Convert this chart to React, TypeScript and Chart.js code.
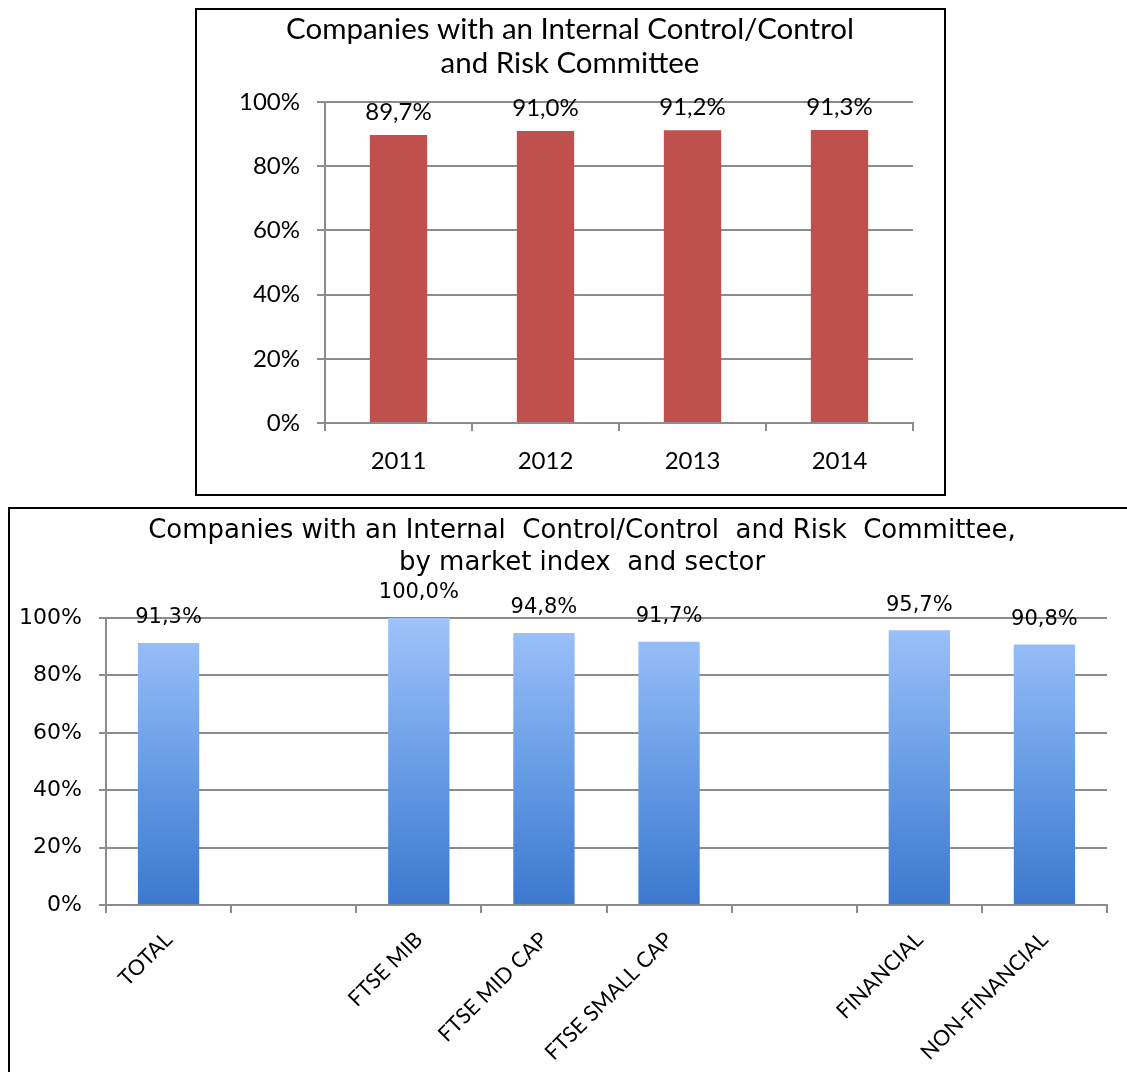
import React, { useEffect, useRef } from "react";
import { Chart, registerables } from "chart.js";

Chart.register(...registerables);

const yearLabels = ["2011", "2012", "2013", "2014"];
const yearValues = [89.7, 91.0, 91.2, 91.3];

const indexLabels = ["TOTAL", "", "FTSE MIB", "FTSE MID CAP", "FTSE SMALL CAP", "", "FINANCIAL", "NON-FINANCIAL"];
const indexValues: (number | null)[] = [91.3, null, 100.0, 94.8, 91.7, null, 95.7, 90.8];

const yTicks = [0, 20, 40, 60, 80, 100];

const topTitle = ["Companies with an Internal Control/Control", "and Risk Committee"];
const bottomTitle = ["Companies with an Internal  Control/Control  and Risk  Committee,", "by market index  and sector"];

const fmt = (v: number) => v.toFixed(1).replace(".", ",") + "%";

const NARROW = 'Lato, sans-serif';
const WIDE = '"DejaVu Sans", Verdana, sans-serif';

function valueLabelPlugin(font: string, offset: number) {
  return {
    id: "valueLabels",
    afterDatasetsDraw(chart: any) {
      const ctx = chart.ctx;
      const meta = chart.getDatasetMeta(0);
      const data = chart.data.datasets[0].data;
      ctx.save();
      ctx.font = font;
      ctx.fillStyle = "#000";
      ctx.textAlign = "center";
      ctx.textBaseline = "middle";
      meta.data.forEach((bar: any, i: number) => {
        const v = data[i];
        if (v === null || v === undefined) return;
        ctx.fillText(fmt(v), bar.x, bar.y - offset);
      });
      ctx.restore();
    },
  };
}

function titlePlugin(lines: string[], font: string, cx: number, firstY: number, lineGap: number) {
  return {
    id: "customTitle",
    afterDraw(chart: any) {
      const ctx = chart.ctx;
      ctx.save();
      ctx.font = font;
      ctx.fillStyle = "#000";
      ctx.textAlign = "center";
      ctx.textBaseline = "middle";
      lines.forEach((l, i) => ctx.fillText(l, cx, firstY + i * lineGap));
      ctx.restore();
    },
  };
}

function TopChart() {
  const ref = useRef<HTMLCanvasElement>(null);
  useEffect(() => {
    const chart = new Chart(ref.current!, {
      type: "bar",
      data: {
        labels: yearLabels,
        datasets: [
          {
            data: yearValues,
            backgroundColor: "#c0504d",
            barPercentage: 0.39,
            categoryPercentage: 1,
          },
        ],
      },
      options: {
        animation: false,
        responsive: false,
        layout: { padding: { left: 0, right: 31, top: 92, bottom: 0 } },
        plugins: {
          legend: { display: false },
          tooltip: { enabled: false },
          title: { display: false },
        },
        scales: {
          x: {
            offset: true,
            grid: { display: true, drawOnChartArea: false, drawTicks: true, tickLength: 8, color: "#8c8c8c", lineWidth: 2, offset: true },
            border: { display: true, color: "#8c8c8c", width: 2 },
            ticks: { color: "#000", font: { family: NARROW, size: 24 }, padding: 16, maxRotation: 0 },
            afterFit: (s: any) => { s.height = 71; },
          },
          y: {
            min: 0,
            max: 100,
            afterBuildTicks: (s: any) => { s.ticks = yTicks.map((v) => ({ value: v })); },
            grid: { color: "#8c8c8c", lineWidth: 2, tickLength: 8 },
            border: { display: true, color: "#8c8c8c", width: 2 },
            ticks: { color: "#000", font: { family: NARROW, size: 24 }, padding: 17, callback: (v: any) => v + "%" },
            afterFit: (s: any) => { s.width = 128; },
          },
        },
      },
      plugins: [
        valueLabelPlugin(`24px ${NARROW}`, 23),
        titlePlugin(topTitle, `29.5px ${NARROW}`, 373, 19, 34),
      ],
    } as any);
    return () => chart.destroy();
  }, []);
  return <canvas ref={ref} width={747} height={484} style={{ display: "block" }} />;
}

function BottomChart() {
  const ref = useRef<HTMLCanvasElement>(null);
  useEffect(() => {
    const chart = new Chart(ref.current!, {
      type: "bar",
      data: {
        labels: indexLabels,
        datasets: [
          {
            data: indexValues,
            backgroundColor: (c: any) => {
              const area = c.chart.chartArea;
              if (!area) return "#6a9ee6";
              const g = c.chart.ctx.createLinearGradient(0, area.top, 0, area.bottom);
              g.addColorStop(0, "#9fc3fb");
              g.addColorStop(0.5, "#6a9ee6");
              g.addColorStop(1, "#3b78cf");
              return g;
            },
            barPercentage: 0.49,
            categoryPercentage: 1,
          },
        ],
      },
      options: {
        animation: false,
        responsive: false,
        layout: { padding: { left: 0, right: 20, top: 109, bottom: 0 } },
        plugins: {
          legend: { display: false },
          tooltip: { enabled: false },
          title: { display: false },
        },
        scales: {
          x: {
            offset: true,
            grid: { display: true, drawOnChartArea: false, drawTicks: true, tickLength: 8, color: "#8c8c8c", lineWidth: 2, offset: true },
            border: { display: true, color: "#8c8c8c", width: 2 },
            ticks: { color: "#000", font: { family: NARROW, size: 21.5 }, padding: 14, minRotation: 45, maxRotation: 45, autoSkip: false },
            afterFit: (s: any) => { s.height = 167; },
          },
          y: {
            min: 0,
            max: 100,
            afterBuildTicks: (s: any) => { s.ticks = yTicks.map((v) => ({ value: v })); },
            grid: { color: "#8c8c8c", lineWidth: 2, tickLength: 7 },
            border: { display: true, color: "#8c8c8c", width: 2 },
            ticks: { color: "#000", font: { family: WIDE, size: 22 }, padding: 17, callback: (v: any) => v + "%" },
            afterFit: (s: any) => { s.width = 96; },
          },
        },
      },
      plugins: [
        valueLabelPlugin(`21px ${WIDE}`, 25),
        titlePlugin(bottomTitle, `26px ${WIDE}`, 572, 22, 32),
      ],
    } as any);
    return () => chart.destroy();
  }, []);
  return <canvas ref={ref} width={1117} height={563} style={{ display: "block" }} />;
}

export default function App() {
  return (
    <div style={{ position: "fixed", left: 0, top: 0, width: 1127, height: 1072, overflow: "hidden", background: "#fff" }}>
      <div style={{ position: "absolute", left: 195, top: 8, width: 747, height: 484, border: "2px solid #000" }}>
        <TopChart />
      </div>
      <div style={{ position: "absolute", left: 8, top: 507, width: 1130, height: 580, border: "2px solid #000" }}>
        <BottomChart />
      </div>
    </div>
  );
}
